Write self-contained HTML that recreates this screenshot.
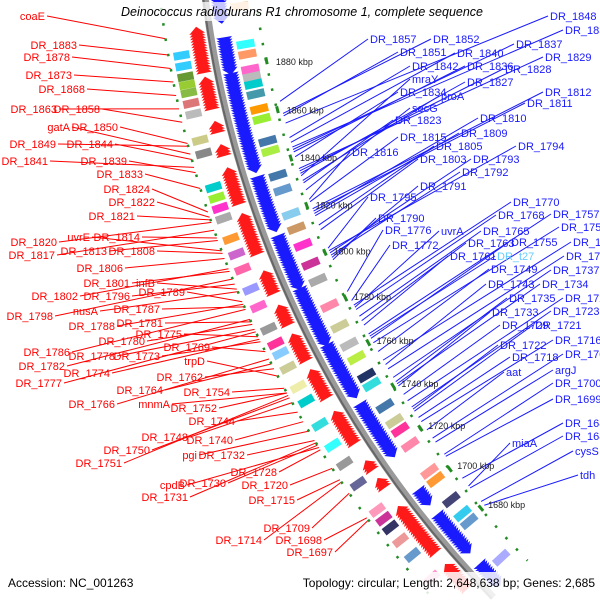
<!DOCTYPE html>
<html><head><meta charset="utf-8"><style>
html,body{margin:0;padding:0;background:#fff;width:600px;height:600px;overflow:hidden;}
svg{display:block;font-family:"Liberation Sans",sans-serif;overflow:hidden;}
</style></head><body>
<svg id="chart" width="600" height="600" viewBox="0 0 600 600">
<defs><clipPath id="frame"><rect x="0" y="0" width="600" height="600"/></clipPath></defs>
<g clip-path="url(#frame)">
<g id="lines"></g>
<g id="tracks"></g>
<g id="labels"></g>
</g>
<rect x="108" y="2" width="390" height="19" fill="#fff" opacity="0.75"/>
<text x="302" y="16" text-anchor="middle" font-size="12.5" font-style="italic" fill="#000">Deinococcus radiodurans R1 chromosome 1, complete sequence</text>
<rect x="0" y="572" width="600" height="28" fill="#fff" opacity="0.85"/>
<text x="8" y="587" font-size="12" fill="#000">Accession: NC_001263</text>
<text x="595" y="587" text-anchor="end" font-size="12" fill="#000">Topology: circular; Length: 2,648,638 bp; Genes: 2,685</text>
</svg>
<script>
const CX=1245, CY=-133, R=1048;
const kbpTicks=[1880,1860,1840,1820,1800,1780,1760,1740,1720,1700,1680];
const redRanges=[[1895,1880],[1876,1866],[1859,1857],[1850,1848],[1841,1829],[1823,1809],[1800,1793],[1786,1780],[1774,1765],[1759,1749],[1741,1729],[1719,1717],[1711,1709],[1698,1678],[1670,1660]];
const blueRanges=[[1910,1900],[1892,1880],[1878,1841],[1837,1817],[1813,1793],[1791,1769],[1767,1746],[1741,1719],[1701,1696],[1689,1672],[1664,1655]];
const redBoxes=[[1888,'#33ccff'],[1884,'#33ccff'],[1880,'#669933'],[1877,'#99cc33'],[1874,'#88bb44'],[1870,'#dd7777'],[1866,'#bbbbbb'],[1856,'#cccc88'],[1851,'#888888'],[1838,'#00cccc'],[1834,'#99ee33'],[1830,'#ff33cc'],[1826,'#aaaaaa'],[1818,'#ff9933'],[1812,'#cc66cc'],[1806,'#ff66aa'],[1798,'#9999ff'],[1791,'#ff66cc'],[1782,'#999999'],[1776,'#ff3399'],[1772,'#88ccff'],[1766,'#cccc99'],[1758,'#eeeeaa'],[1752,'#00cccc'],[1742,'#33dddd'],[1733,'#33ffff'],[1725,'#999999'],[1716,'#666699'],[1704,'#ff99bb'],[1700,'#cc3399'],[1696,'#333366'],[1690,'#ee9999'],[1683,'#6699cc'],[1672,'#ff99cc']];
const blueBoxes=[[1903,'#ffcc99'],[1888,'#33ffff'],[1884,'#ff9966'],[1878,'#ff66cc'],[1875,'#bbbbbb'],[1872,'#00cccc'],[1868,'#4499aa'],[1862,'#ff9900'],[1858,'#99ee33'],[1849,'#4477aa'],[1845,'#aaee44'],[1835,'#4477aa'],[1829,'#6699cc'],[1819,'#88ccee'],[1813,'#cc9966'],[1806,'#ff33cc'],[1798,'#cc3399'],[1791,'#aaaaaa'],[1780,'#ff88aa'],[1771,'#cccc99'],[1763,'#bbbbbb'],[1757,'#bbee44'],[1749,'#223366'],[1745,'#33dddd'],[1735,'#4477aa'],[1728,'#cccc99'],[1724,'#ff3399'],[1717,'#ff88aa'],[1704,'#ff9999'],[1700,'#ff9933'],[1690,'#444477'],[1683,'#33ccee'],[1679,'#6699cc'],[1660,'#aaaaff']];
const leftLabels=[["coaE",45,20],["DR_1883",77,49],["DR_1878",70,61],["DR_1873",72,79],["DR_1868",85,93],["DR_1863",57,113],["DR_1858",100,113],["gatA",70,131],["DR_1850",118,131],["DR_1849",56,148],["DR_1844",113,148],["DR_1841",48,165],["DR_1839",127,165],["DR_1833",143,178],["DR_1824",150,193],["DR_1822",155,206],["DR_1821",135,220],["DR_1820",57,246],["uvrE",90,241],["DR_1814",140,241],["DR_1817",55,259],["DR_1813",107,255],["DR_1808",155,255],["DR_1806",123,272],["DR_1801",130,287],["infB",155,287],["DR_1802",78,300],["DR_1796",130,300],["DR_1789",185,296],["DR_1798",53,320],["nusA",98,315],["DR_1787",160,313],["DR_1788",115,330],["DR_1781",163,327],["DR_1780",145,345],["DR_1775",182,338],["DR_1786",70,356],["DR_1778",115,360],["DR_1773",160,360],["DR_1769",210,351],["DR_1782",65,370],["DR_1774",110,377],["trpD",205,365],["DR_1777",62,387],["DR_1762",203,381],["DR_1764",163,394],["DR_1754",230,396],["DR_1766",115,408],["mnmA",170,408],["DR_1752",217,412],["DR_1744",235,425],["DR_1748",188,441],["DR_1740",233,444],["DR_1750",150,454],["pgi",197,459],["DR_1732",245,459],["DR_1751",122,467],["DR_1728",277,476],["cpdB",185,489],["DR_1730",226,487],["DR_1720",288,489],["DR_1731",188,501],["DR_1715",295,504],["DR_1709",310,532],["DR_1714",262,544],["DR_1698",322,544],["DR_1697",333,556]];
const rightLabels=[["DR_1848",550,20],["DR_1838",565,34],["DR_1857",370,43],["DR_1852",433,43],["DR_1837",516,48],["DR_1851",400,56],["DR_1840",457,57],["DR_1829",545,61],["DR_1842",412,70],["DR_1836",467,70],["DR_1828",505,73],["mraY",412,83],["DR_1827",467,86],["DR_1834",400,96],["proA",441,100],["DR_1812",545,96],["DR_1811",527,107],["secG",412,112],["DR_1823",395,124],["DR_1810",480,122],["DR_1809",461,137],["DR_1815",400,141],["DR_1794",518,150],["DR_1816",352,156],["DR_1805",436,150],["DR_1803",420,163],["DR_1793",473,163],["DR_1792",462,176],["DR_1791",420,190],["DR_1795",370,201],["DR_1770",513,206],["DR_1790",378,222],["DR_1768",498,219],["DR_1757",553,218],["DR_1776",385,234],["uvrA",441,235],["DR_1765",483,235],["DR_1753",561,231],["DR_1772",392,249],["DR_1763",468,247],["DR_1755",511,246],["DR_1745",573,246],["DR_1761",450,260],["DR_t27",497,260],["DR_1741",566,260],["DR_1749",491,273],["DR_1737",553,274],["DR_1743",488,288],["DR_1734",542,288],["DR_1735",509,302],["DR_1726",565,302],["DR_1733",492,316],["DR_1723",553,315],["DR_1729",502,329],["DR_1721",535,329],["DR_1716",555,344],["DR_1722",500,349],["DR_1708",565,358],["DR_1718",512,361],["aat",506,376],["argJ",555,374],["DR_1700",555,387],["DR_1699",555,403],["DR_1688",565,427],["miaA",512,447],["DR_1683",565,440],["cysS",575,455],["tdh",580,479]];
const namedKbp={coaE:1895,gatA:1852,uvrE:1815,infB:1800,nusA:1799,trpD:1765,mnmA:1758,pgi:1742,cpdB:1735,mraY:1832,proA:1830,secG:1826,uvrA:1775,DR_t27:1762,aat:1718,argJ:1712,miaA:1690,cysS:1682,tdh:1680};

const NS="http://www.w3.org/2000/svg";
function ang(k){return 168.8-(1880-k)*0.144;}
function pt(k,r){const a=ang(k)*Math.PI/180;return [CX+r*Math.cos(a),CY+r*Math.sin(a)];}
function mk(tag,attrs,parent){const e=document.createElementNS(NS,tag);for(const k in attrs)e.setAttribute(k,attrs[k]);parent.appendChild(e);return e;}
function geneKbp(n){if(namedKbp[n])return namedKbp[n];return parseInt(n.slice(3))+6;}
function arcD(r,k1,k2){const [x1,y1]=pt(k1,r),[x2,y2]=pt(k2,r);return `M${x1},${y1} A${r},${r} 0 0 0 ${x2},${y2}`;}

const lines=document.getElementById('lines'), tracks=document.getElementById('tracks'), labels=document.getElementById('labels');

[R+45,R-50].forEach(r=>{
  const e=mk('path',{d:arcD(r,1912,1652),fill:'none',stroke:'#228b22','stroke-width':2.5,'stroke-dasharray':'2.5,13'},tracks);
  
  
});
const bb=mk('path',{d:arcD(R,1912,1651),fill:'none',stroke:'#9a9a9a','stroke-width':7},tracks);


const bb2=mk('path',{d:arcD(R+2,1912,1651),fill:'none',stroke:'#666','stroke-width':2},tracks);



function arrow(k,r1,r2,dir,color,name){
  const g=mk('g',{transform:`translate(${CX},${CY}) rotate(${ang(k)})`},tracks);
  const e=mk('polygon',{points:`${r1},0 ${r2},0 ${(r1+r2)/2},${dir*7}`,fill:color},g);
  
  
}
redRanges.forEach(([a,b])=>{for(let k=a;k>=b;k-=1)arrow(k,R+5,R+21,1,'#ff1a1a','red-gene-arrow');});
blueRanges.forEach(([a,b])=>{for(let k=a;k>=b;k-=1)arrow(k,R-5,R-21,-1,'#1a1aff','blue-gene-arrow');});

function box(k,r1,r2,color,name){
  const g=mk('g',{transform:`translate(${CX},${CY}) rotate(${ang(k)})`},tracks);
  const e=mk('rect',{x:Math.min(r1,r2),y:-4,width:Math.abs(r2-r1),height:8,fill:color},g);
  
  
}
redBoxes.forEach(([k,c])=>box(k,R+24,R+40,c,'cog-box-left'));
blueBoxes.forEach(([k,c])=>box(k,R-24,R-42,c,'cog-box-right'));

kbpTicks.forEach(k=>{
  const g=mk('g',{transform:`translate(${CX},${CY}) rotate(${ang(k)})`},tracks);
  const t=mk('rect',{x:R-52,y:-3.5,width:3,height:7,fill:'#228b22'},g);
  
  
  const [x,y]=pt(k,R-60);
  const tx=mk('text',{x:x,y:y+6,'font-size':9,fill:'#222'},tracks);
  tx.textContent=k+' kbp';
  
  
});

leftLabels.forEach(([n,x,y])=>{
  const [px,py]=pt(geneKbp(n),R+45);
  const l=mk('line',{x1:x+2,y1:y-4,x2:px,y2:py,stroke:'#ff0000','stroke-width':1},lines);
  
  
  const t=mk('text',{x:x,y:y,'text-anchor':'end','font-size':11,fill:'#ff0000'},labels);
  t.textContent=n;
  
  
});
rightLabels.forEach(([n,x,y])=>{
  const [px,py]=pt(geneKbp(n),R-55);
  const l=mk('line',{x1:x-2,y1:y-4,x2:px,y2:py,stroke:'#1a1aff','stroke-width':1},lines);
  
  
  const t=mk('text',{x:x,y:y,'font-size':11,fill:n==='DR_t27'?'#66ccff':'#1a1aff'},labels);
  t.textContent=n;
  
  
});
</script>
</body></html>
